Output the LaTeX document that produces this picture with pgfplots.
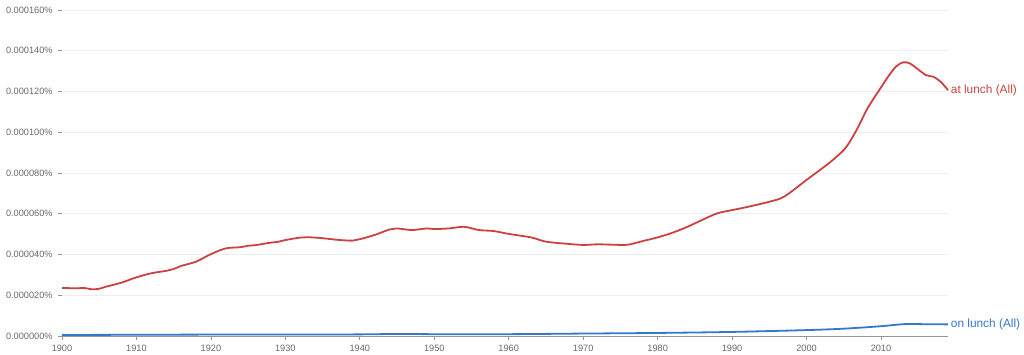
\documentclass[border=0pt]{standalone}
\usepackage{fontspec}
\setmainfont{Liberation Sans}
\usepackage{pgfplots}
\pgfplotsset{compat=1.18}
\definecolor{redl}{RGB}{204,66,66}
\definecolor{bluel}{RGB}{52,120,200}
\definecolor{tickgray}{RGB}{105,105,105}
\definecolor{gridgray}{RGB}{238,238,238}
\definecolor{axisgray}{RGB}{150,150,150}
\begin{document}
\begin{tikzpicture}
\path[use as bounding box] (-46.5pt,-13.5pt) rectangle (721.5pt,252pt);
\begin{axis}[
  scale only axis, width=664.5pt, height=244.5pt,
  xmin=1900, xmax=2019, ymin=0, ymax=160,
  axis x line*=bottom, axis y line*=left,
  y axis line style={draw=none},
  x axis line style={draw=axisgray, line width=0.6pt},
  xtick={1900,1910,...,2010},
  ytick={0,20,...,160},
  yticklabels={0.000000\%,0.000020\%,0.000040\%,0.000060\%,0.000080\%,0.000100\%,0.000120\%,0.000140\%,0.000160\%},
  /pgf/number format/assume math mode=true,
  /pgf/number format/1000 sep={},
  tick align=outside, major tick length=3pt,
  every tick/.style={draw=axisgray, line width=0.5pt},
  ymajorgrids, grid style={draw=gridgray, line width=0.6pt},
  tick label style={font=\fontsize{6.9pt}{8pt}\selectfont, text=tickgray},
  yticklabel style={xshift=-0.5pt},
  clip=false,
]
\addplot[redl, line width=1.35pt, smooth, tension=0.5] coordinates {
(1900,23.6) (1902,23.4) (1903,23.6) (1904,22.9) (1905,23.2) (1906,24.3) (1908,26.2)
(1910,28.8) (1912,30.8) (1914,32.0) (1915,32.9) (1916,34.4) (1918,36.5) (1920,40.2)
(1922,43.0) (1924,43.6) (1925,44.3) (1926,44.6) (1928,45.8) (1929,46.2) (1930,47.1)
(1932,48.3) (1933,48.5) (1935,48.0) (1937,47.2) (1939,46.8) (1940,47.5) (1942,49.6)
(1944,52.3) (1945,52.8) (1947,52.0) (1949,52.8) (1950,52.5) (1952,52.8) (1954,53.6)
(1956,52.0) (1958,51.5) (1960,50.1) (1963,48.4) (1965,46.3) (1968,45.2) (1970,44.7)
(1972,45.0) (1974,44.8) (1976,44.8) (1978,46.6) (1980,48.4) (1982,50.7) (1984,53.6)
(1986,57.0) (1988,60.2) (1990,61.8) (1992,63.3) (1995,65.9) (1997,68.4) (2000,76.6)
(2003,84.8) (2005,91.3) (2006,96.5) (2007,103.0) (2008,110.5) (2009,116.5) (2010,122.0)
(2011,127.5) (2012,132.2) (2013,134.3)
(2014,133.5) (2016,128.1) (2017,127.3) (2018,124.8) (2019,120.7)
} node[pos=1, anchor=west, inner sep=1.5pt, text=redl, font=\fontsize{8.9pt}{10pt}\selectfont] {at lunch (All)};
\addplot[bluel, line width=1.35pt, smooth, tension=0.5] coordinates {
(1900,0.5) (1910,0.6) (1920,0.7) (1930,0.7) (1940,0.8) (1945,1.0) (1950,0.9)
(1960,0.9) (1970,1.2) (1980,1.5) (1990,2.0) (2000,2.9) (2005,3.6) (2010,4.8)
(2013,5.8) (2016,5.8) (2019,5.7)
} node[pos=1, anchor=west, inner sep=1.5pt, text=bluel, font=\fontsize{8.9pt}{10pt}\selectfont] {on lunch (All)};
\end{axis}
\end{tikzpicture}
\end{document}
